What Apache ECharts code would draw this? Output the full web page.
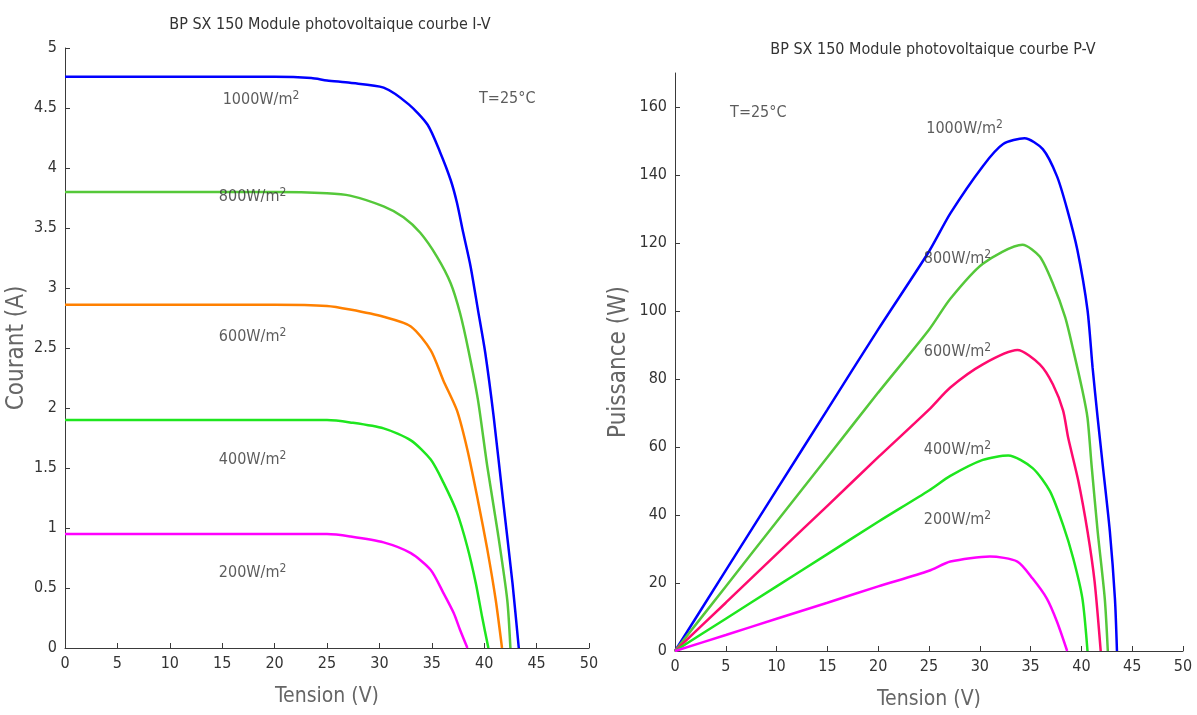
<!DOCTYPE html>
<html>
<head>
<meta charset="utf-8">
<script src="https://cdn.jsdelivr.net/npm/echarts@6/dist/echarts.min.js"></script>
<style>
  html, body { margin: 0; padding: 0; background: #fff; }
  #main { width: 1197px; height: 715px; }
</style>
</head>
<body>
<div id="main"></div>
<script>
var FONT = '"Liberation Sans Narrow", "DejaVu Sans Condensed", Arial, sans-serif';

// courbes I-V : [tension (V), courant (A)]
var iv1000 = [[0,4.76],[10,4.76],[20,4.76],[23.5,4.75],[25,4.73],[27.2,4.71],[30.4,4.67],[32.8,4.53],[34.6,4.36],[35.8,4.13],[36.8,3.90],[37.4,3.71],[38.0,3.46],[38.7,3.18],[39.4,2.82],[40.1,2.46],[40.9,1.93],[41.8,1.23],[42.7,0.54],[43.3,0]];
var iv800 = [[0,3.80],[10,3.80],[20,3.80],[25,3.79],[27.2,3.77],[30.4,3.68],[32.3,3.59],[33.9,3.46],[35.5,3.26],[36.8,3.04],[37.7,2.79],[38.5,2.48],[39.4,2.07],[40.3,1.51],[41.3,0.96],[42.2,0.40],[42.5,0]];
var iv600 = [[0,2.86],[10,2.86],[20,2.86],[25,2.85],[27.2,2.82],[30.4,2.76],[33.0,2.68],[34.9,2.48],[36.1,2.23],[37.4,1.98],[38.4,1.65],[39.4,1.23],[40.3,0.82],[41.1,0.40],[41.7,0]];
var iv400 = [[0,1.90],[10,1.90],[20,1.90],[25,1.90],[27.2,1.88],[30.4,1.83],[33.0,1.73],[34.9,1.57],[36.1,1.38],[37.4,1.13],[38.4,0.84],[39.2,0.54],[39.8,0.26],[40.4,0]];
var iv200 = [[0,0.95],[10,0.95],[20,0.95],[25,0.95],[27.2,0.93],[30.4,0.88],[33.0,0.79],[34.9,0.65],[36.1,0.46],[37.1,0.29],[37.7,0.15],[38.4,0]];

// courbes P-V : [tension (V), puissance (W)]
var pv1000 = [[0,0],[5,23.7],[10,47.4],[15,71],[20,94.6],[25,117.5],[27.1,128.7],[30.3,142.6],[32.3,149.1],[34.4,150.8],[36.2,147.6],[37.6,139.6],[38.6,129.9],[39.6,118],[40.6,100.3],[41.1,83.4],[41.6,68.6],[42.1,54.7],[42.8,35.2],[43.3,15.4],[43.5,0]];
var pv800 = [[0,0],[5,19],[10,38],[15,57],[20,76],[25,94.5],[27.1,103.6],[30.3,113.9],[34.2,119.5],[35.9,116],[37.2,108],[38.4,98.2],[39.2,88.5],[40.1,76.6],[40.6,68.6],[41.0,54.7],[41.6,35.2],[42.3,15.4],[42.6,0]];
var pv600 = [[0,0],[5,14.2],[10,28.5],[15,42.7],[20,57],[25,71],[27.1,77.5],[30.3,84.3],[33.7,88.5],[35.9,84.3],[37.2,78.4],[38.2,70.7],[38.7,62.7],[39.7,50],[40.6,35.2],[41.3,20.4],[41.9,0]];
var pv400 = [[0,0],[5,9.5],[10,19],[15,28.5],[20,38],[25,47.2],[27.1,51.5],[30.3,56.2],[32.8,57.5],[35.2,53.8],[36.9,47],[38.2,37],[39.2,27.2],[40.1,15.4],[40.6,0]];
var pv200 = [[0,0],[5,4.7],[10,9.5],[15,14.2],[20,19],[25,23.6],[27.1,26.3],[31.0,27.8],[33.7,26.3],[35.2,21.3],[36.6,15.4],[37.6,8.6],[38.6,0]];

var yTicksP = [0,20,40,60,80,100,120,140,160];

// étiquettes : [x, y, texte]
var notesIV = [[18.7,4.57,'1000'],[17.9,3.76,'800'],[17.9,2.59,'600'],[17.9,1.57,'400'],[17.9,0.63,'200'],[42.2,4.58,'T']];
var notesPV = [[28.5,153.6,'1000'],[27.8,115.4,'800'],[27.8,87.9,'600'],[27.8,59.2,'400'],[27.8,38.5,'200'],[8.2,158.3,'T']];

var colIV = ['#0000ff','#55c83a','#ff8000','#1ee61e','#ff00ff'];
var colPV = ['#0000ff','#55c83a','#ff0a6e','#1ee61e','#ff00ff'];

function axisBase() {
  return {
    nameMoveOverlap: false,
    axisLine: { show: true, lineStyle: { color: '#3a3a3a', width: 1 } },
    axisTick: { show: true, inside: true, length: 5, lineStyle: { color: '#3a3a3a' } },
    splitLine: { show: false },
    axisLabel: { color: '#333', fontSize: 16, fontFamily: FONT },
    nameTextStyle: { color: '#666', fontSize: 24, fontFamily: FONT }
  };
}

function xAxis(idx) {
  var a = Object.assign(axisBase(), {
    type: 'value', gridIndex: idx, min: 0, max: 50, interval: 5,
    name: 'Tension (V)', nameLocation: 'middle', nameGap: 38
  });
  a.nameTextStyle.fontSize = 21;
  return a;
}

function curve(data, color, idx) {
  return {
    type: 'line', data: data, xAxisIndex: idx, yAxisIndex: idx,
    showSymbol: false, smooth: 0.25,
    lineStyle: { color: color, width: 2.5 }, z: 2, silent: true
  };
}

function notes(list, idx) {
  return {
    type: 'scatter', xAxisIndex: idx, yAxisIndex: idx, symbolSize: 0, z: 5, silent: true,
    data: list.map(function (n) { return { value: [n[0], n[1]], name: n[2] }; }),
    label: {
      show: true, position: 'inside', color: '#333', fontSize: 16, fontFamily: FONT,
      formatter: function (p) {
        if (p.name === 'T') return '{n|T=25°C}';
        return '{n|' + p.name + 'W/m}{s|2}';
      },
      rich: {
        n: { fontSize: 16, fontFamily: FONT, color: '#333', lineHeight: 20 },
        s: { fontSize: 12, fontFamily: FONT, color: '#333', verticalAlign: 'top', lineHeight: 20, padding: [0, 0, 8, 0] }
      }
    }
  };
}

var option = {
  backgroundColor: '#fff',
  animation: false,
  title: [
    { text: 'BP SX 150 Module photovoltaique courbe I-V', left: 325, top: 12, textAlign: 'center',
      textStyle: { fontSize: 16, fontWeight: 'normal', color: '#333', fontFamily: FONT } },
    { text: 'BP SX 150 Module photovoltaique courbe P-V', left: 928, top: 37, textAlign: 'center',
      textStyle: { fontSize: 16, fontWeight: 'normal', color: '#333', fontFamily: FONT } }
  ],
  grid: [
    { left: 65, right: 608, top: 48, bottom: 67 },
    { left: 675, right: 14, top: 73, bottom: 63 }
  ],
  xAxis: [xAxis(0), xAxis(1)],
  yAxis: [
    Object.assign(axisBase(), {
      type: 'value', gridIndex: 0, min: 0, max: 5, interval: 0.5,
      name: 'Courant (A)', nameLocation: 'middle', nameGap: 36
    }),
    Object.assign(axisBase(), {
      type: 'value', gridIndex: 1, min: 0, max: 170, interval: 20,
      name: 'Puissance (W)', nameLocation: 'middle', nameGap: 44
    })
  ],
  series: [
    curve(iv1000, colIV[0], 0), curve(iv800, colIV[1], 0), curve(iv600, colIV[2], 0),
    curve(iv400, colIV[3], 0), curve(iv200, colIV[4], 0),
    curve(pv1000, colPV[0], 1), curve(pv800, colPV[1], 1), curve(pv600, colPV[2], 1),
    curve(pv400, colPV[3], 1), curve(pv200, colPV[4], 1),
    notes(notesIV, 0), notes(notesPV, 1)
  ]
};

option.yAxis[1].axisLabel.customValues = yTicksP;
option.yAxis[1].axisTick.customValues = yTicksP;

var chart = echarts.init(document.getElementById('main'));
chart.setOption(option);
</script>
</body>
</html>
